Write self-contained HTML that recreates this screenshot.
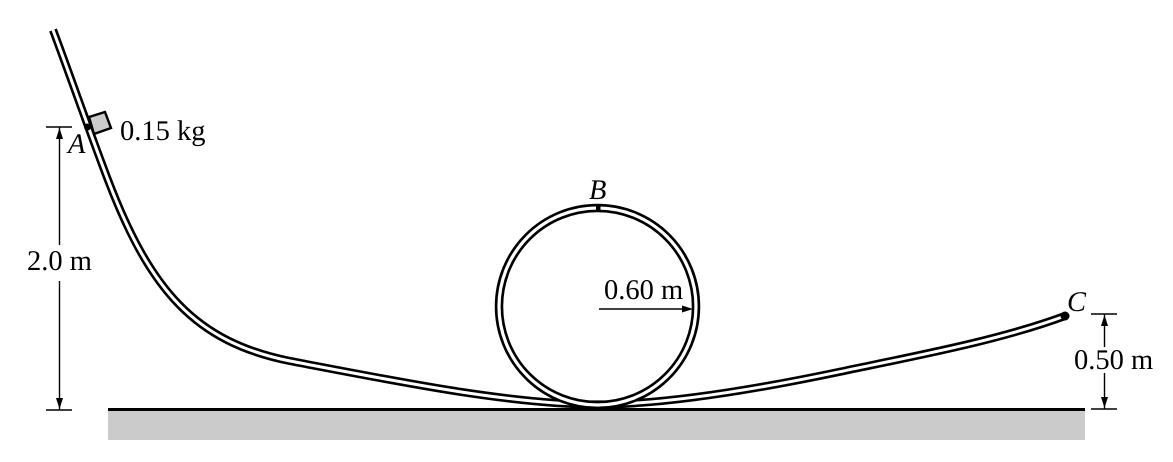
<!DOCTYPE html>
<html lang="en">
<head>
<meta charset="utf-8">
<title>Track with loop diagram</title>
<style>
html,body{margin:0;padding:0;background:#fff;width:1173px;height:462px;overflow:hidden}
svg{display:block}
text{font-family:"Liberation Serif",serif;font-size:28.500px;fill:#000;text-rendering:geometricPrecision}
.it{font-style:italic}
</style>
</head>
<body>
<svg width="1173" height="462" viewBox="0 0 1173 462" xmlns="http://www.w3.org/2000/svg">
  <defs>
    <path id="track-curve" d="M53,30 C71,78 90,133 108,180 C150,290 195,342 290,361 C395,381 510,404.500 597,404.500 C670,404.500 770,386.400 840,371.700 C920,355 1000,340 1065,316"/>
  </defs>
  <rect x="108" y="410" width="977" height="30" fill="#cbcbcb"/>
  <rect x="108" y="408" width="977" height="3" fill="#000"/>

  <g fill="none">
    <use href="#track-curve" stroke="#000" stroke-width="8.200"/>
    <use href="#track-curve" stroke="#fff" stroke-width="3"/>
  </g>
  <g fill="none">
    <circle cx="597.500" cy="306.500" r="98.500" stroke="#000" stroke-width="8.500"/>
    <circle cx="597.500" cy="306.500" r="98.500" stroke="#fff" stroke-width="3.200"/>
  </g>

  <rect x="596" y="205" width="4.500" height="7" fill="#000"/>
  <circle cx="1065" cy="316" r="4.500" fill="#000"/>
  <circle cx="87.500" cy="127" r="3.500" fill="#000"/>
  <polygon points="89,117 105,112 111,128 94,134" fill="#cbcbcb" stroke="#000" stroke-width="2.400"/>

  <g stroke="#000" stroke-width="1.400" fill="#000">
    <line x1="46" y1="127" x2="72" y2="127"/>
    <line x1="46" y1="410" x2="72" y2="410"/>
    <line x1="59.500" y1="127" x2="59.500" y2="245"/>
    <line x1="59.500" y1="281" x2="59.500" y2="410"/>
    <polygon points="59.500,128 56,139 63,139" stroke="none"/>
    <polygon points="59.500,409 56,398 63,398" stroke="none"/>
  </g>
  <g stroke="#000" stroke-width="1.400" fill="#000">
    <line x1="1091" y1="314" x2="1117" y2="314"/>
    <line x1="1091" y1="409" x2="1117" y2="409"/>
    <line x1="1104.500" y1="314" x2="1104.500" y2="347"/>
    <line x1="1104.500" y1="373" x2="1104.500" y2="409"/>
    <polygon points="1104.500,315 1101,326 1108,326" stroke="none"/>
    <polygon points="1104.500,408 1101,397 1108,397" stroke="none"/>
  </g>
  <g stroke="#000" stroke-width="1.400" fill="#000">
    <line x1="599" y1="309" x2="685" y2="309"/>
    <polygon points="693,309 682,305.500 682,312.500" stroke="none"/>
  </g>

  <text x="120" y="140">0.15 kg</text>
  <text class="it" x="68" y="153">A</text>
  <text class="it" x="589" y="199">B</text>
  <text class="it" x="1067" y="311">C</text>
  <text x="27" y="270">2.0 m</text>
  <text x="604" y="299">0.60 m</text>
  <text x="1074" y="369">0.50 m</text>
</svg>
</body>
</html>
